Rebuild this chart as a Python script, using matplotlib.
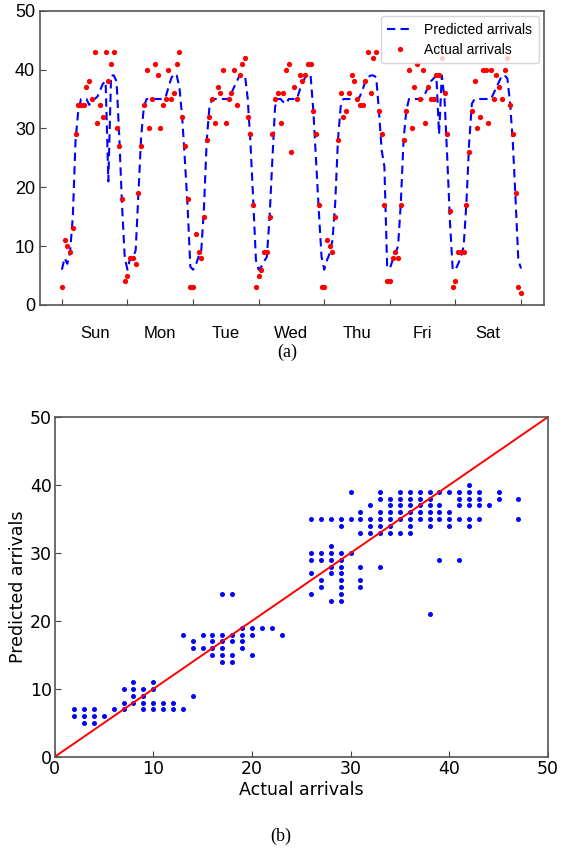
import numpy as np
import matplotlib
matplotlib.use('Agg')
import matplotlib.pyplot as plt

# (a) hourly arrivals over one week, hour 0..168
hours = np.arange(0, 169)
actual = [3, 11, 10, 9, 13, 29, 34, 34, 34, 37, 38, 35, 43, 31, 34, 32, 43, 38, 41, 43, 30, 27, 18, 4,
          5, 8, 8, 7, 19, 27, 34, 40, 30, 35, 41, 39, 30, 34, 35, 40, 35, 36, 41, 43, 32, 27, 18, 3,
          3, 12, 9, 8, 15, 28, 32, 35, 31, 37, 36, 40, 31, 35, 36, 40, 34, 39, 41, 42, 32, 29, 17, 3,
          5, 6, 9, 9, 15, 29, 35, 36, 31, 36, 40, 41, 26, 37, 35, 39, 38, 39, 41, 41, 33, 29, 17, 3,
          3, 11, 10, 9, 15, 28, 36, 32, 33, 36, 39, 38, 35, 34, 34, 38, 43, 36, 42, 43, 33, 29, 17, 4,
          4, 8, 9, 8, 17, 28, 33, 40, 30, 37, 41, 35, 40, 31, 37, 35, 35, 39, 39, 42, 36, 29, 16, 3,
          4, 9, 9, 9, 17, 26, 33, 38, 30, 32, 40, 40, 31, 40, 35, 39, 37, 35, 40, 42, 34, 29, 19, 3,
          2]
predicted = [6, 8, 7, 9, 15, 28, 33, 35, 35, 35, 34, 35, 35, 35.4, 36.5, 37.6, 38, 21, 39, 39, 38, 28.6, 17, 8,
             6, 8, 8, 9.3, 19, 28.6, 33.7, 35, 35, 35, 35, 35, 35, 35, 35.4, 37, 38.5, 39.3, 39, 37, 32, 24.6, 16.7, 6.5,
             6, 6.8, 8.2, 9.3, 16.7, 28, 33.7, 35, 35, 35, 35, 35, 35, 35, 36, 37, 38, 39, 39, 39, 35, 27.5, 17.8, 7.6,
             6, 6.5, 7.4, 8.2, 15, 24.6, 33.7, 35, 35, 34.5, 34.2, 35, 35, 35, 35, 36.5, 37.6, 38.7, 39, 39, 33, 24.6, 16, 8.2,
             6, 7.6, 8.8, 11, 17.3, 28, 33.7, 35, 35, 35, 35, 35, 35, 35.4, 36.5, 38, 38.7, 39, 39, 38.7, 33, 26.3, 23.5, 6.5,
             6.2, 7.6, 8.8, 10, 17.3, 28, 33, 35, 35, 35, 35, 35, 35, 36, 37, 38, 38.5, 39, 29, 39, 35, 25, 14, 6,
             6, 7, 8.2, 10, 17.3, 27.5, 34.2, 35, 35, 35, 35, 35, 35, 35, 36, 37, 38, 39, 39, 38.5, 34.2, 27.5, 17.8, 7.6,
             6.2]
days = ['Sun', 'Mon', 'Tue', 'Wed', 'Thu', 'Fri', 'Sat']

# (b) predicted vs actual
sc_actual = [2, 2, 3, 3, 3, 4, 4, 4, 5, 6, 7, 7, 7, 8, 8, 8, 8, 9, 9, 9, 9, 10, 10, 10, 10, 11, 11, 12, 12, 13, 14,
             13, 14, 14, 15, 15, 16, 16, 16, 16, 17, 17, 17, 17, 17, 17, 18, 18, 18, 18, 18, 19, 19, 19, 19,
             20, 20, 20, 21, 22, 23,
             38, 28, 29, 26, 29, 27, 29, 31, 27, 29, 31, 26, 28, 29, 28, 29, 31, 33,
             26, 27, 28, 29, 39, 41, 26, 27, 28, 29, 30, 28,
             31, 32, 33, 34, 35, 36,
             29, 32, 33, 34, 36, 38, 40, 42,
             26, 27, 28, 29, 30, 31, 32, 33, 34, 35, 36, 37, 38, 39, 40, 41, 42, 43, 47,
             31, 33, 34, 35, 36, 37, 38, 39, 40,
             32, 34, 35, 36, 37, 38, 39, 41, 42, 43, 44,
             33, 34, 35, 36, 37, 38, 41, 42, 43, 45, 47,
             30, 33, 35, 36, 37, 38, 39, 40, 41, 42, 43, 45,
             42]
sc_pred = [7, 6, 7, 6, 5, 7, 6, 5, 6, 7, 10, 8, 7, 11, 10, 9, 8, 10, 9, 8, 7, 11, 10, 8, 7, 8, 7, 8, 7, 7, 9,
           18, 17, 16, 18, 16, 18, 17, 16, 15, 24, 18, 17, 16, 15, 14, 24, 18, 17, 15, 14, 19, 18, 17, 16,
           19, 18, 15, 19, 19, 18,
           21, 23, 23, 24, 24, 25, 25, 25, 26, 26, 26, 27, 27, 27, 28, 28, 28, 28,
           29, 29, 29, 29, 29, 29, 30, 30, 30, 30, 30, 31,
           33, 33, 33, 33, 33, 33,
           34, 34, 34, 34, 34, 34, 34, 34,
           35, 35, 35, 35, 35, 35, 35, 35, 35, 35, 35, 35, 35, 35, 35, 35, 35, 35, 35,
           36, 36, 36, 36, 36, 36, 36, 36, 36,
           37, 37, 37, 37, 37, 37, 37, 37, 37, 37, 37,
           38, 38, 38, 38, 38, 38, 38, 38, 38, 38, 38,
           39, 39, 39, 39, 39, 39, 39, 39, 39, 39, 39, 39,
           40]

fig = plt.figure(figsize=(5.75, 8.51), dpi=100)

# top panel
ax1 = fig.add_axes([0.0696, 0.6416, 0.877, 0.3458])
ax1.plot(hours, predicted, '--', color='#0000ff', lw=1.5, dashes=(4, 2.5), label='Predicted arrivals')
ax1.plot(hours, actual, 'o', color='red', ms=3.8, mec='none', label='Actual arrivals')
ax1.set_xlim(-8, 176.5)
ax1.set_ylim(0, 50)
ax1.set_yticks([0, 10, 20, 30, 40, 50])
ax1.set_xticks(np.arange(0, 169, 24))
ax1.set_xticklabels([])
ax1.set_xticks(np.arange(12, 168, 24), minor=True)
ax1.set_xticklabels(days, minor=True, family='Liberation Sans', fontsize=12)
ax1.tick_params(axis='x', which='minor', length=0, pad=15)
ax1.tick_params(which='major', direction='in', length=4, color='#444444')
ax1.tick_params(axis='y', labelsize=13)
for t in ax1.get_yticklabels():
    t.set_family('Liberation Sans')
for s in ax1.spines.values():
    s.set_color('#555555')
    s.set_linewidth(1.2)
leg = ax1.legend(loc='upper right', prop={'family': 'Liberation Sans', 'size': 10},
                 handlelength=1.9, borderpad=0.45, labelspacing=0.45, handletextpad=0.8,
                 borderaxespad=0.4)
leg.get_frame().set_edgecolor('#cccccc')
fig.text(0.5, 0.586, '(a)', ha='center', va='center', family='Liberation Serif', fontsize=13)

# bottom panel
ax2 = fig.add_axes([0.0948, 0.1105, 0.8582, 0.3995])
ax2.plot(sc_actual, sc_pred, 'o', color='#0000ff', ms=3.6, mec='none')
ax2.plot([0, 50], [0, 50], '-', color='red', lw=1.4)
ax2.set_xlim(0, 50)
ax2.set_ylim(0, 50)
ax2.set_xticks([0, 10, 20, 30, 40, 50])
ax2.set_yticks([0, 10, 20, 30, 40, 50])
ax2.tick_params(direction='in', length=4, labelsize=12.5, color='#444444', pad=2)
ax2.set_xlabel('Actual arrivals', fontsize=12.5, labelpad=2)
ax2.set_ylabel('Predicted arrivals', fontsize=12.5, labelpad=2)
for s in ax2.spines.values():
    s.set_color('#555555')
    s.set_linewidth(1.2)
fig.text(0.489, 0.0176, '(b)', ha='center', va='center', family='Liberation Serif', fontsize=13)

fig.savefig('out.png', dpi=100)
